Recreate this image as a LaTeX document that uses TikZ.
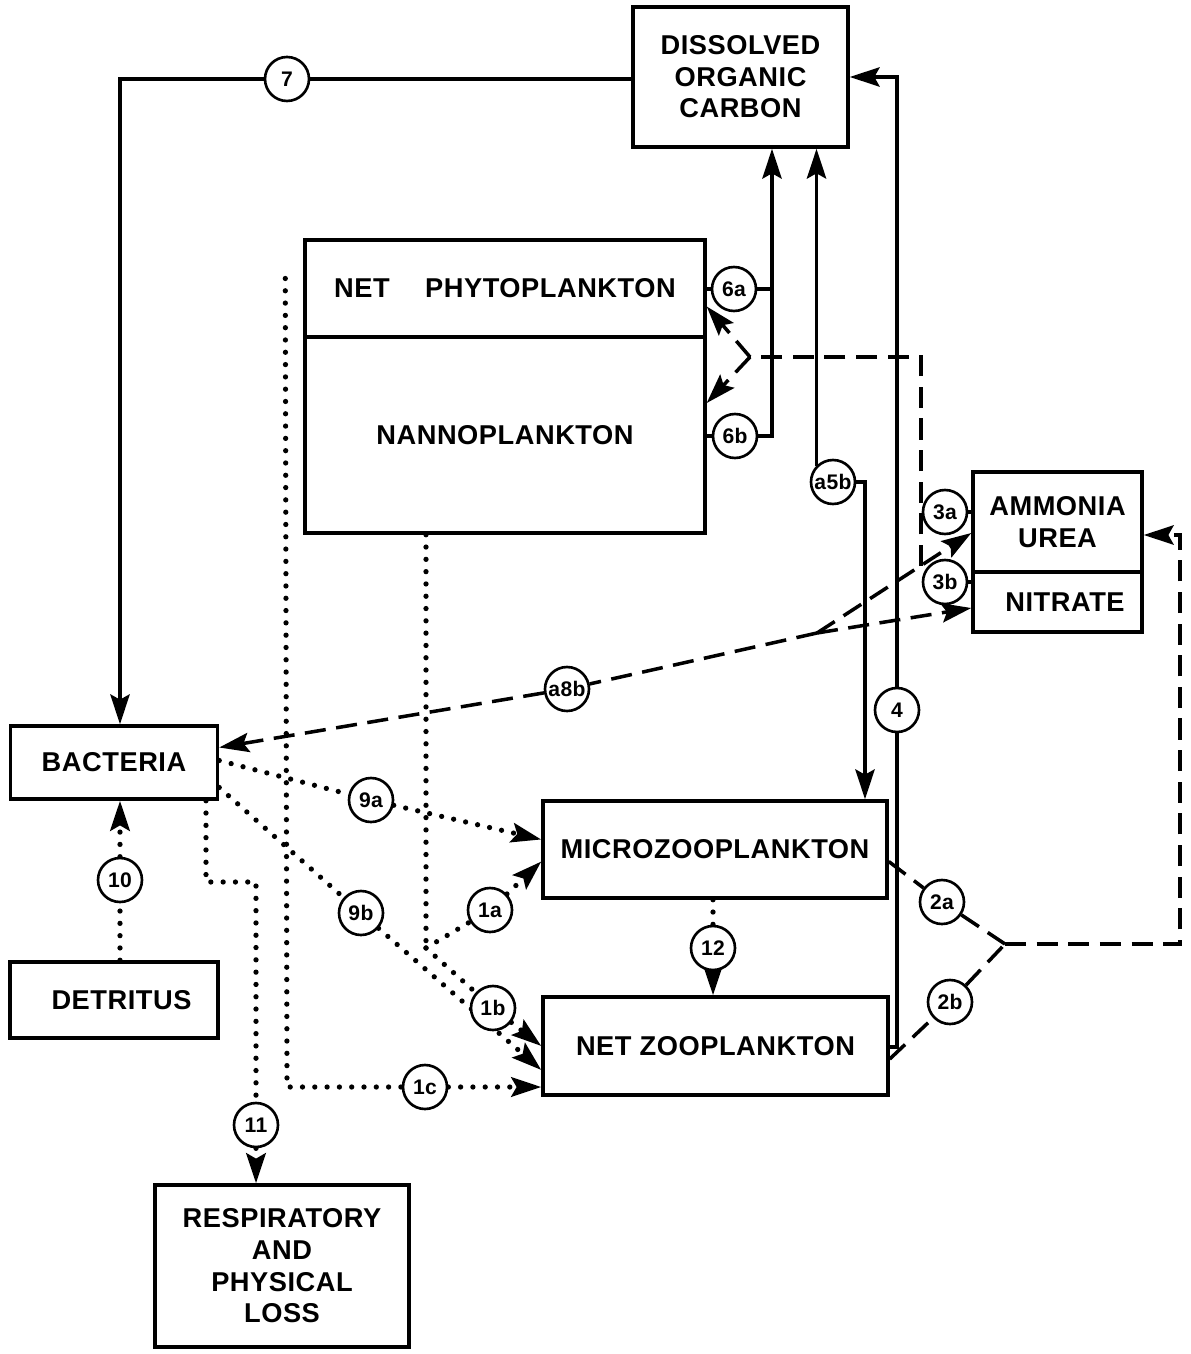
\documentclass[tikz,border=0pt]{standalone}
\usepackage{fontspec}
\setmainfont{Liberation Sans}[LetterSpace=2]
\usepackage{tikz}
\usetikzlibrary{arrows.meta,calc,backgrounds}
\tikzset{
  pool/.style={draw, line width=2pt, inner sep=0pt, align=center, font=\bfseries\fontsize{15.5}{18}\selectfont},
  flux/.style={draw, circle, fill=white, line width=1.5pt, minimum size=0.88cm, inner sep=0pt, font=\bfseries\fontsize{12}{12}\selectfont},
  conn/.style={line width=2pt},
  arr/.style={-{Stealth[length=17pt,width=11pt,inset=3pt]}},
  dashln/.style={conn, dash pattern=on 12pt off 6pt},
  dotln/.style={line width=3pt, line cap=round, dash pattern=on 0pt off 7pt},
}

\begin{document}
\begin{tikzpicture}[x=0.02cm,y=-0.02cm]
\useasboundingbox (0,0) rectangle (1190,1354);

% pools
\node[pool, minimum width=4.3cm, minimum height=2.8cm] (doc) at (740.5,77) {DISSOLVED\\ORGANIC\\CARBON};
\node[pool, minimum width=8cm, minimum height=1.94cm] (netphyto) at (505,288.5) {NET\hspace{1.3em}PHYTOPLANKTON};
\node[pool, minimum width=8cm, minimum height=3.92cm] (nanno) at (505,435) {NANNOPLANKTON};
\node[pool, minimum width=3.38cm, minimum height=2cm] (amm) at (1057.5,522) {AMMONIA\\UREA};
\node[pool, minimum width=3.38cm, minimum height=1.2cm] (nit) at (1057.5,602) {\hspace{0.3cm}NITRATE};
\node[pool, minimum width=4.14cm, minimum height=1.46cm] (bact) at (114,762.5) {BACTERIA};
\node[pool, minimum width=4.16cm, minimum height=1.52cm] (detr) at (114,1000) {\hspace{0.3cm}DETRITUS};
\node[pool, minimum width=6.88cm, minimum height=1.94cm] (micro) at (715,849.5) {MICROZOOPLANKTON};
\node[pool, minimum width=6.9cm, minimum height=1.96cm] (netzoo) at (715.5,1046) {NET ZOOPLANKTON};
\node[pool, minimum width=5.08cm, minimum height=3.24cm] (resp) at (282,1266) {RESPIRATORY\\AND\\PHYSICAL\\LOSS};

% flux numbers
\node[flux] (c7) at (287,79) {7};
\node[flux] (c6a) at (734,289) {6a};
\node[flux] (c6b) at (735,436) {6b};
\node[flux] (c5) at (833,482) {a5b};
\node[flux] (c4) at (897,710) {4};
\node[flux] (c3a) at (945,512) {3a};
\node[flux] (c3b) at (945,582) {3b};
\node[flux] (c8) at (567,689) {a8b};
\node[flux] (c9a) at (371,800) {9a};
\node[flux] (c9b) at (361,913) {9b};
\node[flux] (c1a) at (490,910) {1a};
\node[flux] (c1b) at (493,1008) {1b};
\node[flux] (c1c) at (425,1087) {1c};
\node[flux] (c10) at (120,880) {10};
\node[flux] (c11) at (256,1125) {11};
\node[flux] (c12) at (713,948) {12};
\node[flux] (c2a) at (942,902) {2a};
\node[flux] (c2b) at (950,1002) {2b};

% bends and junctions
\coordinate (k7) at (120,79);
\coordinate (k6) at (772,289);
\coordinate (k5) at (865,482);
\coordinate (k4a) at (897,1047);
\coordinate (k4b) at (897,77);
\coordinate (j2) at (1005,944);
\coordinate (k2) at (1180,944);
\coordinate (j8) at (817,633);
\coordinate (k3) at (921,566);
\coordinate (k3b) at (921,357);
\coordinate (j6) at (750,357);
\coordinate (jn) at (426,948);
\coordinate (kq) at (287,1087);
\coordinate (kb) at (206,882);
\coordinate (kc) at (256,882);

\begin{scope}[on background layer]
% solid flows
\draw[conn,arr] (doc.west |- c7) -- (c7) -- (k7) -- (k7 |- bact.north);
\draw[conn] (netphyto.east |- c6a) -- (c6a) -- (k6);
\draw[conn] (nanno.east |- c6b) -- (c6b);
\draw[conn,arr] (c6b) -| (k6) -- (k6 |- doc.south);
\draw[conn,arr] (c5.north west) -- (c5.north west |- doc.south);
\draw[conn,arr] (c5.east) -- (k5) -- (k5 |- micro.north);
\draw[conn] (netzoo.east |- k4a) -- (k4a) -- (c4);
\draw[conn,arr] (c4) -- (k4b) -- (k4b -| doc.east);
\draw[conn] (c3a) -- (c3a -| amm.west);
\draw[conn] (c3b) -- (c3b -| nit.west);

% dashed flows
\draw[dashln] ($(micro.east)+(0,12)$) -- (c2a) -- (j2);
\draw[dashln] ($(netzoo.east)+(0,13)$) -- (c2b) -- (j2);
\draw[dashln,arr] (j2) -- (k2) -- (k2 |- 0,535) -- ($(amm.east)+(0,13)$);
\draw[dashln,arr] (j8) -- ($(amm.west)+(0,11)$);
\draw[dashln,arr] (j8) -- ($(nit.west)+(0,6)$);
\draw[dashln,arr] (j8) -- (c8) -- ($(bact.east)+(0,-15)$);
\draw[dashln] (k3) -- (k3b) -- (j6);
\draw[dashln,arr] (j6) -- ($(netphyto.east)+(0,18)$);
\draw[dashln,arr] (j6) -- ($(nanno.east)+(0,-32)$);

% dotted flows
\draw[dotln,arr] ($(bact.east)+(0,-2)$) -- (c9a) -- ($(micro.west)+(0,-10)$);
\draw[dotln,arr] ($(bact.east)+(0,25)$) -- (c9b) -- ($(netzoo.west)+(0,24)$);
\draw[dotln] (nanno.south -| jn) -- (jn);
\draw[dotln,arr] (jn) -- (c1a) -- ($(micro.west)+(0,12)$);
\draw[dotln,arr] (jn) -- (c1b) -- (netzoo.west);
\draw[dotln,arr] ($(netphyto.west)+(-18,-10)$) -- (kq) -- (c1c) -- ($(netzoo.west)+(0,41)$);
\draw[dotln,arr] (bact.south -| kb) -- (kb) -- (kc) -- (c11) -- (c11 |- resp.north);
\draw[dotln,arr] (detr.north -| c10) -- (c10) -- (c10 |- bact.south);
\draw[dotln,arr] (micro.south -| c12) -- (c12) -- (c12 |- netzoo.north);
\end{scope}
\end{tikzpicture}
\end{document}
